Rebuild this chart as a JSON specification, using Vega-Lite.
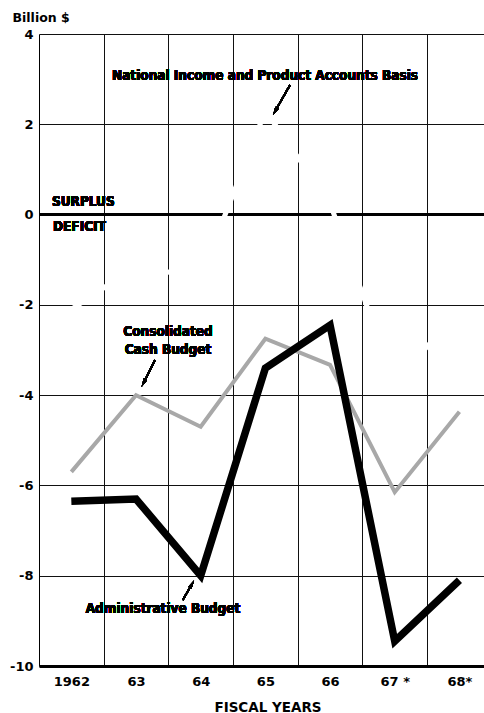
{
  "$schema": "https://vega.github.io/schema/vega-lite/v6.json",
  "width": 445,
  "height": 632,
  "autosize": {"type": "none"},
  "padding": {"left": 39, "top": 34, "right": 0, "bottom": 47},
  "background": "white",
  "config": {
    "view": {"stroke": null},
    "axis": {"labelFont": "DejaVu Sans", "labelFontWeight": "bold", "labelColor": "black", "titleColor": "black", "titleFont": "DejaVu Sans", "ticks": false, "gridColor": "#111111", "gridWidth": 1, "domainColor": "black"},
    "text": {"font": "DejaVu Sans Condensed", "fontSize": 13.5, "fontWeight": "bold", "color": "black", "baseline": "middle"}
  },
  "datasets": {
    "budget": [
      {"year": 1962, "series": "Administrative Budget", "value": -6.35},
      {"year": 1963, "series": "Administrative Budget", "value": -6.3},
      {"year": 1964, "series": "Administrative Budget", "value": -8.0},
      {"year": 1965, "series": "Administrative Budget", "value": -3.4},
      {"year": 1966, "series": "Administrative Budget", "value": -2.45},
      {"year": 1967, "series": "Administrative Budget", "value": -9.45},
      {"year": 1968, "series": "Administrative Budget", "value": -8.1},
      {"year": 1962, "series": "Consolidated Cash Budget", "value": -5.7},
      {"year": 1963, "series": "Consolidated Cash Budget", "value": -4.0},
      {"year": 1964, "series": "Consolidated Cash Budget", "value": -4.7},
      {"year": 1965, "series": "Consolidated Cash Budget", "value": -2.75},
      {"year": 1966, "series": "Consolidated Cash Budget", "value": -3.33},
      {"year": 1967, "series": "Consolidated Cash Budget", "value": -6.15},
      {"year": 1968, "series": "Consolidated Cash Budget", "value": -4.37},
      {"year": 1962, "series": "National Income and Product Accounts Basis", "value": -2.1},
      {"year": 1963, "series": "National Income and Product Accounts Basis", "value": -1.15},
      {"year": 1964, "series": "National Income and Product Accounts Basis", "value": -1.4},
      {"year": 1965, "series": "National Income and Product Accounts Basis", "value": 2.3},
      {"year": 1966, "series": "National Income and Product Accounts Basis", "value": 0.25},
      {"year": 1967, "series": "National Income and Product Accounts Basis", "value": -3.75},
      {"year": 1968, "series": "National Income and Product Accounts Basis", "value": -2.1}
    ]
  },
  "data": {"name": "budget"},
  "encoding": {
    "x": {
      "field": "year", "type": "quantitative",
      "scale": {"domain": [1961.5, 1968.38], "nice": false, "zero": false},
      "axis": {
        "title": "FISCAL YEARS",
        "values": [1962, 1962.5, 1963, 1963.5, 1964, 1964.5, 1965, 1965.5, 1966, 1966.5, 1967, 1967.5, 1968],
        "labelExpr": "datum.value % 1 !== 0 ? '' : datum.value == 1962 ? '1962' : datum.value == 1967 ? '67 *' : datum.value == 1968 ? '68*' : substring(toString(datum.value), 2)",
        "labelFontSize": 13,
        "labelPadding": 9,
        "labelFlush": false,
        "labelOverlap": false,
        "grid": true,
        "gridOpacity": {"condition": {"test": "datum.value % 1 !== 0", "value": 1}, "value": 0},
        "domainWidth": 3,
        "titleFontSize": 13.5,
        "titleFontWeight": "bold",
        "titleX": 228.5,
        "titleY": 41,
        "titleAlign": "center",
        "titleBaseline": "middle"
      }
    },
    "y": {
      "field": "value", "type": "quantitative",
      "scale": {"domain": [-10, 4], "nice": false, "zero": false},
      "axis": {
        "title": "Billion $",
        "values": [-10, -8, -6, -4, -2, 0, 2, 4],
        "labelExpr": "'' + datum.value",
        "labelFontSize": 13,
        "labelPadding": 6,
        "grid": true,
        "domainWidth": 1,
        "titleAngle": 0,
        "titleFontSize": 12.5,
        "titleFontWeight": "bold",
        "titleX": -27,
        "titleY": -17,
        "titleAlign": "left",
        "titleBaseline": "middle"
      }
    }
  },
  "layer": [
    {
      "mark": {"type": "rule", "color": "black", "strokeWidth": 3},
      "encoding": {"x": null, "y": {"datum": 0, "type": "quantitative", "scale": {"domain": [-10, 4], "nice": false, "zero": false}}}
    },
    {
      "transform": [{"filter": "datum.series == 'National Income and Product Accounts Basis'"}],
      "mark": {"type": "line", "color": "white", "strokeWidth": 5}
    },
    {
      "transform": [{"filter": "datum.series == 'Consolidated Cash Budget'"}],
      "mark": {"type": "line", "color": "#a8a8a8", "strokeWidth": 4}
    },
    {
      "transform": [{"filter": "datum.series == 'Administrative Budget'"}],
      "mark": {"type": "line", "color": "black", "strokeWidth": 7.5, "strokeJoin": "miter"}
    },
    {
      "mark": {"type": "text", "text": "National Income and Product Accounts Basis", "align": "center"},
      "encoding": {"x": {"datum": 1964.994, "type": "quantitative"}, "y": {"datum": 3.07, "type": "quantitative"}}
    },
    {
      "mark": {"type": "text", "text": "SURPLUS", "align": "left"},
      "encoding": {"x": {"datum": 1961.701, "type": "quantitative"}, "y": {"datum": 0.285, "type": "quantitative"}}
    },
    {
      "mark": {"type": "text", "text": "DEFICIT", "align": "left"},
      "encoding": {"x": {"datum": 1961.716, "type": "quantitative"}, "y": {"datum": -0.286, "type": "quantitative"}}
    },
    {
      "mark": {"type": "text", "text": "Consolidated", "align": "center"},
      "encoding": {"x": {"datum": 1963.494, "type": "quantitative"}, "y": {"datum": -2.595, "type": "quantitative"}}
    },
    {
      "mark": {"type": "text", "text": "Cash Budget", "align": "center"},
      "encoding": {"x": {"datum": 1963.494, "type": "quantitative"}, "y": {"datum": -3.0, "type": "quantitative"}}
    },
    {
      "mark": {"type": "text", "text": "Administrative Budget", "align": "center"},
      "encoding": {"x": {"datum": 1963.417, "type": "quantitative"}, "y": {"datum": -8.737, "type": "quantitative"}}
    },
    {
      "mark": {"type": "rule", "color": "black", "strokeWidth": 1.6},
      "encoding": {"x": {"datum": 1965.381, "type": "quantitative"}, "y": {"datum": 2.87, "type": "quantitative"}, "x2": {"datum": 1965.149}, "y2": {"datum": 2.285}}
    },
    {
      "mark": {"type": "point", "shape": "M0,-1L0.45,1L-0.45,1Z", "filled": true, "color": "black", "opacity": 1, "size": 70, "angle": 209.5},
      "encoding": {"x": {"datum": 1965.149, "type": "quantitative"}, "y": {"datum": 2.285, "type": "quantitative"}}
    },
    {
      "mark": {"type": "rule", "color": "black", "strokeWidth": 1.6},
      "encoding": {"x": {"datum": 1963.293, "type": "quantitative"}, "y": {"datum": -3.222, "type": "quantitative"}, "x2": {"datum": 1963.116}, "y2": {"datum": -3.733}}
    },
    {
      "mark": {"type": "point", "shape": "M0,-1L0.45,1L-0.45,1Z", "filled": true, "color": "black", "opacity": 1, "size": 70, "angle": 206.5},
      "encoding": {"x": {"datum": 1963.116, "type": "quantitative"}, "y": {"datum": -3.733, "type": "quantitative"}}
    },
    {
      "mark": {"type": "rule", "color": "black", "strokeWidth": 1.6},
      "encoding": {"x": {"datum": 1963.722, "type": "quantitative"}, "y": {"datum": -8.538, "type": "quantitative"}, "x2": {"datum": 1963.865}, "y2": {"datum": -8.188}}
    },
    {
      "mark": {"type": "point", "shape": "M0,-1L0.45,1L-0.45,1Z", "filled": true, "color": "black", "opacity": 1, "size": 70, "angle": 30.3},
      "encoding": {"x": {"datum": 1963.865, "type": "quantitative"}, "y": {"datum": -8.188, "type": "quantitative"}}
    }
  ]
}
